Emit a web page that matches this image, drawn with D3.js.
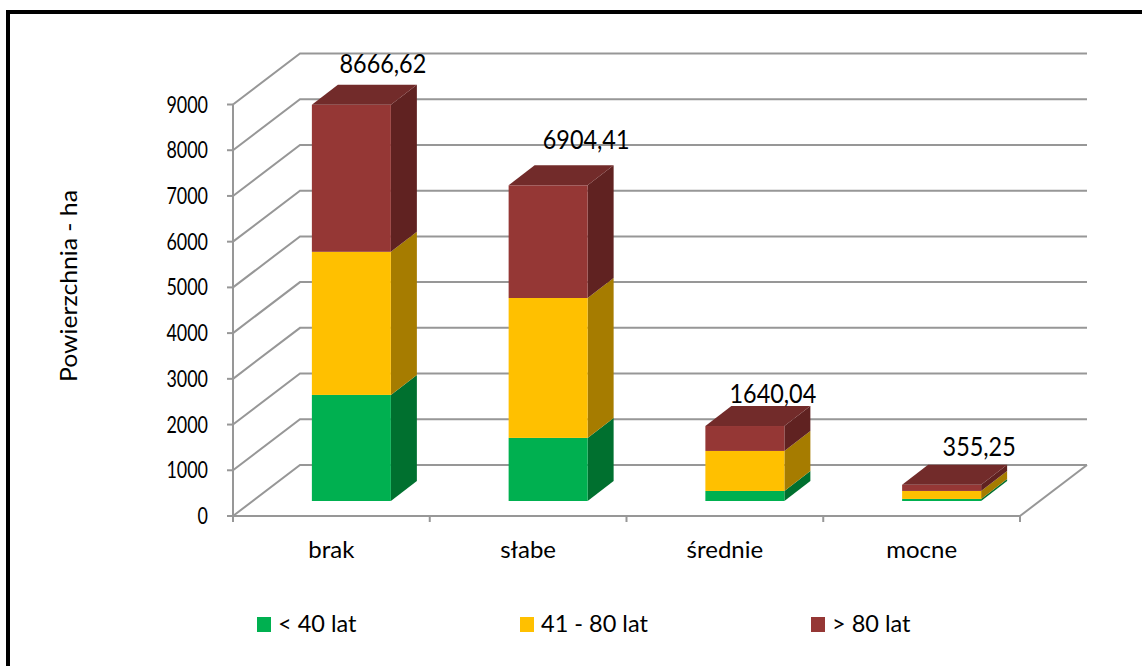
<!DOCTYPE html>
<html><head><meta charset="utf-8">
<script src="https://cdn.jsdelivr.net/npm/d3@7"></script>
<style>html,body{margin:0;padding:0;background:#fff}svg{display:block}text{font-family:Lato,"Open Sans",sans-serif;fill:#000}</style>
</head><body><svg id="c" width="1142" height="666"></svg>
<script>
const categories = ["brak","słabe","średnie","mocne"];
const seriesNames = ["< 40 lat","41 - 80 lat","> 80 lat"];
const young = [2320,1380,220,45];
const middle = [3130,3060,875,175];
const old = [3216.62,2464.41,545.04,135.25];
const totalLabels = ["8666,62","6904,41","1640,04","355,25"];
const yTicks = [0,1000,2000,3000,4000,5000,6000,7000,8000,9000];
const colors = ["#00B050","#FFC000","#953735"];
const sideColors = ["#00702F","#A67C00","#602221"];
const topColors = ["#00843B","#BF9000","#722B2A"];

const svg = d3.select("#c");
svg.append("rect").attr("x",8).attr("y",12).attr("width",1140).attr("height",670)
  .attr("fill","#fff").attr("stroke","#000").attr("stroke-width",4);

const x0=233,x1=1020,yBottom=516,yTop=104.5;
const x = d3.scaleBand().domain(categories).range([x0,x1]).paddingInner(0).paddingOuter(0);
const y = d3.scaleLinear().domain([0,9000]).range([yBottom,yTop]);
const depth={dx:67,dy:-51}, barOff={dx:20,dy:-15}, barDepth={dx:26,dy:-20}, barW=79;
const grid="#979797";

const g=svg.append("g");
g.selectAll("path.grid").data(yTicks).join("path").attr("class","grid")
 .attr("fill","none").attr("stroke",grid).attr("stroke-width",2)
 .attr("d",d=>d3.line()([[x0,y(d)],[x0+depth.dx,y(d)+depth.dy],[x1+depth.dx,y(d)+depth.dy]]));
g.append("path").attr("fill","none").attr("stroke",grid).attr("stroke-width",2)
 .attr("d",d3.line()([[x1,y(0)],[x1+depth.dx,y(0)+depth.dy]]));
g.append("line").attr("x1",x0).attr("x2",x0).attr("y1",y(9000)).attr("y2",y(0)+5).attr("stroke",grid).attr("stroke-width",2);
g.append("line").attr("x1",x0-6).attr("x2",x1).attr("y1",y(0)).attr("y2",y(0)).attr("stroke",grid).attr("stroke-width",2);
g.selectAll("line.ty").data(yTicks).join("line").attr("class","ty")
 .attr("x1",x0-6).attr("x2",x0).attr("y1",d=>y(d)).attr("y2",d=>y(d)).attr("stroke",grid).attr("stroke-width",2);
const xEdges=categories.map(c=>x(c)+x.bandwidth()).concat([x0]);
g.selectAll("line.tx").data(xEdges).join("line").attr("class","tx")
 .attr("x1",d=>d).attr("x2",d=>d).attr("y1",y(0)).attr("y2",y(0)+6).attr("stroke",grid).attr("stroke-width",2);

// Lato stands in for the original face; digits are narrower there, so they get a stronger squeeze
const label=(sel,tx,ty,size,anchor,sx)=>sel.attr("font-size",size).attr("text-anchor",anchor)
  .attr("transform",`translate(${tx},${ty}) scale(${sx},1)`);
yTicks.forEach(t=>label(g.append("text").text(t),208,y(t)+8,23,"end",0.78));
g.append("text").text("Powierzchnia - ha").attr("font-size",24).attr("text-anchor","middle")
 .attr("transform","translate(77,286) rotate(-90) scale(1.03,1)");
categories.forEach(c=>label(g.append("text").text(c),x(c)+x.bandwidth()/2,558,24,"middle",1.0));

const series=[young,middle,old];
const labelShift=[[-2,0],[4.5,-4],[-5.5,9],[4,3]];
categories.forEach((c,i)=>{
  const left=x(c)+x.bandwidth()/2+barOff.dx-barW/2, right=left+barW;
  const off=barOff.dy, scaleH=v=>y(v)+off;
  let cum=0;
  series.forEach((s,k)=>{
    const a=scaleH(cum), b=scaleH(cum+s[i]); cum+=s[i];
    const bar=svg.append("g");
    bar.append("path").attr("fill",sideColors[k])
      .attr("d",d3.line()([[right,a],[right+barDepth.dx,a+barDepth.dy],[right+barDepth.dx,b+barDepth.dy],[right,b]])+"Z");
    bar.append("rect").attr("x",left).attr("y",b).attr("width",barW).attr("height",a-b).attr("fill",colors[k]);
  });
  const t=scaleH(cum);
  svg.append("path").attr("fill",topColors[2])
    .attr("d",d3.line()([[left,t],[left+barDepth.dx,t+barDepth.dy],[right+barDepth.dx,t+barDepth.dy],[right,t]])+"Z");
  label(svg.append("text").text(totalLabels[i]),right+barDepth.dx-32+labelShift[i][0],t+barDepth.dy-12+labelShift[i][1],26,"middle",0.9);
});

const legX=[257,520,811];
seriesNames.forEach((n,k)=>{
  svg.append("rect").attr("x",legX[k]).attr("y",617).attr("width",14).attr("height",15).attr("fill",colors[k]);
  label(svg.append("text").text(n),legX[k]+21,632,24,"start",0.98);
});
</script></body></html>
